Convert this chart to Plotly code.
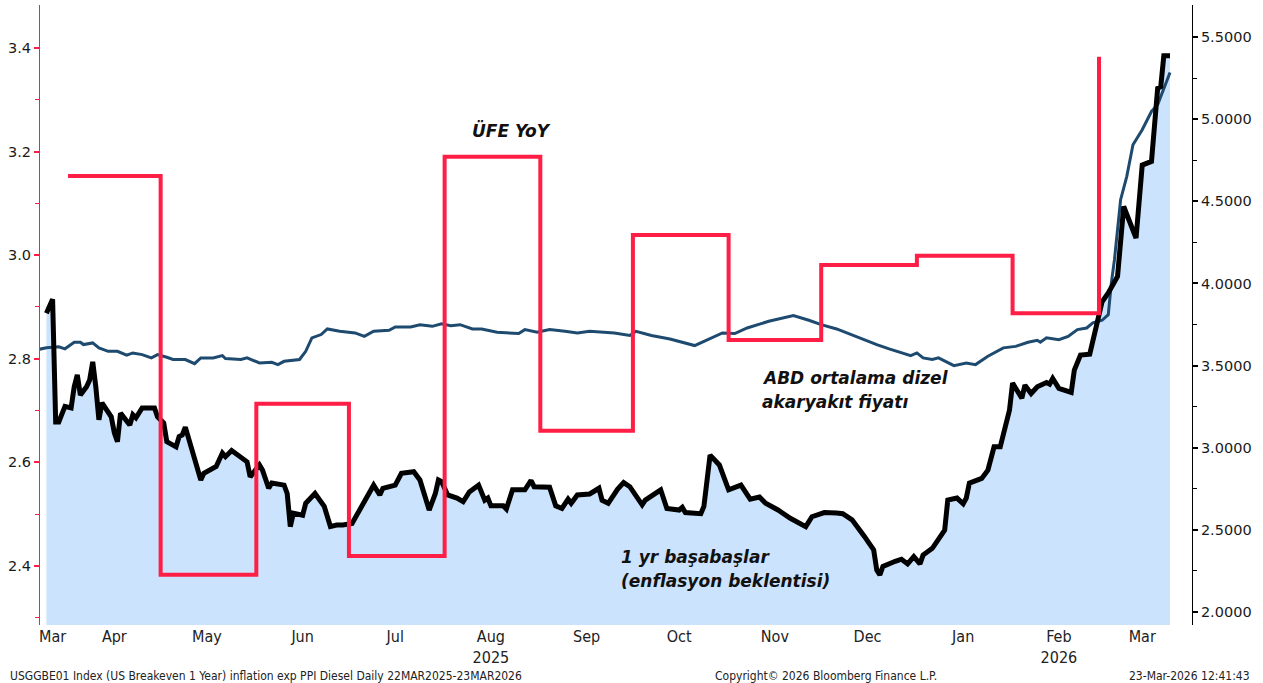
import plotly.graph_objects as go

# ---------------- data ----------------
breakeven_dates = [
    "2025-03-24", "2025-03-26", "2025-03-27", "2025-03-28", "2025-03-30", "2025-04-01", "2025-04-02",
    "2025-04-03", "2025-04-04", "2025-04-06", "2025-04-07", "2025-04-08", "2025-04-09", "2025-04-10",
    "2025-04-11", "2025-04-14", "2025-04-15", "2025-04-16", "2025-04-17", "2025-04-20", "2025-04-21",
    "2025-04-22", "2025-04-24", "2025-04-28", "2025-04-29", "2025-05-01", "2025-05-02", "2025-05-05",
    "2025-05-06", "2025-05-07", "2025-05-08", "2025-05-11", "2025-05-13", "2025-05-14", "2025-05-18",
    "2025-05-20", "2025-05-21", "2025-05-23", "2025-05-28", "2025-05-29", "2025-06-01", "2025-06-02",
    "2025-06-04", "2025-06-05", "2025-06-09", "2025-06-10", "2025-06-11", "2025-06-12", "2025-06-15",
    "2025-06-16", "2025-06-19", "2025-06-22", "2025-06-24", "2025-06-26", "2025-06-28", "2025-07-01",
    "2025-07-08", "2025-07-10", "2025-07-11", "2025-07-15", "2025-07-17", "2025-07-21", "2025-07-23",
    "2025-07-26", "2025-07-28", "2025-07-29", "2025-07-30", "2025-08-01", "2025-08-04", "2025-08-06",
    "2025-08-08", "2025-08-11", "2025-08-13", "2025-08-14", "2025-08-15", "2025-08-19", "2025-08-20",
    "2025-08-22", "2025-08-26", "2025-08-28", "2025-08-29", "2025-09-03", "2025-09-05", "2025-09-07",
    "2025-09-09", "2025-09-10", "2025-09-12", "2025-09-16", "2025-09-19", "2025-09-20", "2025-09-22",
    "2025-09-25", "2025-09-27", "2025-09-29", "2025-10-03", "2025-10-04", "2025-10-09", "2025-10-11",
    "2025-10-15", "2025-10-16", "2025-10-17", "2025-10-22", "2025-10-23", "2025-10-25", "2025-10-28",
    "2025-10-31", "2025-11-04", "2025-11-07", "2025-11-10", "2025-11-12", "2025-11-16", "2025-11-20",
    "2025-11-25", "2025-11-27", "2025-12-01", "2025-12-05", "2025-12-07", "2025-12-10", "2025-12-12",
    "2025-12-14", "2025-12-17", "2025-12-18", "2025-12-19", "2025-12-20", "2025-12-24", "2025-12-26",
    "2025-12-28", "2025-12-30", "2026-01-01", "2026-01-02", "2026-01-05", "2026-01-07", "2026-01-09",
    "2026-01-10", "2026-01-13", "2026-01-15", "2026-01-16", "2026-01-17", "2026-01-21", "2026-01-23",
    "2026-01-25", "2026-01-27", "2026-01-30", "2026-01-31", "2026-02-03", "2026-02-04", "2026-02-06",
    "2026-02-08", "2026-02-11", "2026-02-12", "2026-02-13", "2026-02-15", "2026-02-19", "2026-02-20",
    "2026-02-22", "2026-02-25", "2026-02-27", "2026-03-01", "2026-03-03", "2026-03-06", "2026-03-08",
    "2026-03-12", "2026-03-14", "2026-03-17", "2026-03-19", "2026-03-20", "2026-03-21", "2026-03-23",
]
breakeven_values = [
    2.888, 2.915, 2.678, 2.678, 2.708, 2.705, 2.746,
    2.769, 2.730, 2.746, 2.759, 2.794, 2.746, 2.682,
    2.715, 2.688, 2.657, 2.640, 2.695, 2.672, 2.692,
    2.686, 2.705, 2.705, 2.688, 2.676, 2.640, 2.630,
    2.650, 2.653, 2.668, 2.611, 2.566, 2.579, 2.592,
    2.618, 2.611, 2.623, 2.601, 2.572, 2.595, 2.585,
    2.550, 2.560, 2.556, 2.540, 2.476, 2.502, 2.498,
    2.521, 2.540, 2.515, 2.476, 2.479, 2.479, 2.482,
    2.556, 2.537, 2.550, 2.556, 2.579, 2.582, 2.566,
    2.508, 2.540, 2.566, 2.563, 2.537, 2.531, 2.524,
    2.543, 2.556, 2.527, 2.531, 2.516, 2.516, 2.510,
    2.547, 2.547, 2.565, 2.553, 2.552, 2.516, 2.511,
    2.529, 2.521, 2.537, 2.539, 2.550, 2.527, 2.521,
    2.548, 2.561, 2.553, 2.518, 2.527, 2.547, 2.511,
    2.508, 2.513, 2.503, 2.501, 2.515, 2.614, 2.595,
    2.547, 2.556, 2.529, 2.533, 2.521, 2.508, 2.492,
    2.476, 2.495, 2.503, 2.502, 2.501, 2.489, 2.471,
    2.457, 2.431, 2.392, 2.383, 2.399, 2.409, 2.413,
    2.404, 2.418, 2.404, 2.421, 2.434, 2.450, 2.469,
    2.527, 2.531, 2.520, 2.531, 2.560, 2.569, 2.585,
    2.630, 2.630, 2.701, 2.753, 2.724, 2.749, 2.733,
    2.746, 2.754, 2.751, 2.762, 2.743, 2.735, 2.778,
    2.807, 2.809, 2.856, 2.910, 2.927, 2.959, 3.094,
    3.033, 3.174, 3.181, 3.322, 3.325, 3.385, 3.385,
]

diesel_dates = [
    "2025-03-21", "2025-03-24", "2025-03-28", "2025-03-30", "2025-04-02", "2025-04-04", "2025-04-05",
    "2025-04-08", "2025-04-10", "2025-04-13", "2025-04-16", "2025-04-19", "2025-04-21", "2025-04-24",
    "2025-04-27", "2025-04-29", "2025-05-02", "2025-05-04", "2025-05-08", "2025-05-11", "2025-05-13",
    "2025-05-17", "2025-05-20", "2025-05-21", "2025-05-26", "2025-05-28", "2025-06-01", "2025-06-05",
    "2025-06-07", "2025-06-09", "2025-06-14", "2025-06-16", "2025-06-18", "2025-06-21", "2025-06-23",
    "2025-06-27", "2025-07-02", "2025-07-05", "2025-07-08", "2025-07-13", "2025-07-15", "2025-07-20",
    "2025-07-23", "2025-07-27", "2025-07-30", "2025-08-02", "2025-08-05", "2025-08-09", "2025-08-12",
    "2025-08-17", "2025-08-24", "2025-08-26", "2025-08-30", "2025-09-03", "2025-09-08", "2025-09-12",
    "2025-09-16", "2025-09-20", "2025-09-24", "2025-09-29", "2025-10-01", "2025-10-06", "2025-10-12",
    "2025-10-20", "2025-10-23", "2025-10-29", "2025-11-02", "2025-11-06", "2025-11-13", "2025-11-21",
    "2025-11-26", "2025-11-30", "2025-12-05", "2025-12-11", "2025-12-18", "2025-12-22", "2025-12-29",
    "2025-12-31", "2026-01-02", "2026-01-05", "2026-01-07", "2026-01-12", "2026-01-16", "2026-01-19",
    "2026-01-23", "2026-01-28", "2026-02-01", "2026-02-05", "2026-02-08", "2026-02-09", "2026-02-11",
    "2026-02-15", "2026-02-18", "2026-02-21", "2026-02-24", "2026-02-26", "2026-03-01", "2026-03-03",
    "2026-03-04", "2026-03-05", "2026-03-07", "2026-03-09", "2026-03-11", "2026-03-14", "2026-03-17",
    "2026-03-19", "2026-03-21", "2026-03-23",
]
diesel_values = [
    3.597, 3.608, 3.614, 3.602, 3.642, 3.642, 3.628,
    3.638, 3.608, 3.587, 3.587, 3.563, 3.577, 3.567,
    3.547, 3.567, 3.551, 3.537, 3.537, 3.512, 3.547,
    3.547, 3.561, 3.543, 3.537, 3.547, 3.516, 3.520,
    3.506, 3.526, 3.537, 3.587, 3.669, 3.689, 3.723,
    3.709, 3.699, 3.678, 3.709, 3.715, 3.735, 3.735,
    3.749, 3.739, 3.754, 3.743, 3.749, 3.723, 3.723,
    3.703, 3.695, 3.719, 3.703, 3.719, 3.709, 3.699,
    3.709, 3.703, 3.699, 3.683, 3.709, 3.683, 3.662,
    3.622, 3.648, 3.699, 3.695, 3.729, 3.770, 3.804,
    3.776, 3.749, 3.723, 3.678, 3.628, 3.602, 3.561,
    3.577, 3.547, 3.537, 3.547, 3.500, 3.516, 3.506,
    3.557, 3.608, 3.617, 3.642, 3.654, 3.642, 3.669,
    3.658, 3.678, 3.719, 3.729, 3.760, 3.776, 3.810,
    4.003, 4.145, 4.510, 4.652, 4.844, 4.936, 5.047,
    5.088, 5.189, 5.284,
]

ppi_dates = [
    "2025-03-31", "2025-04-30", "2025-05-31", "2025-06-30", "2025-07-31", "2025-08-31",
    "2025-09-30", "2025-10-31", "2025-11-30", "2025-12-31", "2026-01-31", "2026-02-28",
]
ppi_values = [3.153, 2.383, 2.713, 2.419, 3.190, 2.661, 3.039, 2.836, 2.981, 2.999, 2.888, 3.383]

month_tick_dates = [
    "2025-03-26", "2025-04-15", "2025-05-15", "2025-06-15", "2025-07-15", "2025-08-15",
    "2025-09-15", "2025-10-15", "2025-11-15", "2025-12-15", "2026-01-15", "2026-02-15", "2026-03-14",
]
month_tick_labels = ["Mar", "Apr", "May", "Jun", "Jul", "Aug<br>2025", "Sep", "Oct", "Nov", "Dec",
                     "Jan", "Feb<br>2026", "Mar"]

left_ticks = [2.4, 2.6, 2.8, 3.0, 3.2, 3.4]
right_ticks = [2.0, 2.5, 3.0, 3.5, 4.0, 4.5, 5.0, 5.5]

# ---------------- styles ----------------
RED = "#ff1e46"
NAVY = "#1e4a70"
FILL = "#cbe3fc"
LEFT_RANGE = [2.286, 3.483]
RIGHT_RANGE = [1.921, 5.695]
X_RANGE = ["2025-03-21 22:00", "2026-03-30 03:00"]
LABEL_FONT = dict(family="DejaVu Sans, Verdana, sans-serif", size=14.5, color="#1a1a1a")
NARROW = "Liberation Sans Narrow, DejaVu Sans Condensed, Arial Narrow, sans-serif"
ANN_FONT = dict(family="DejaVu Sans, Verdana, sans-serif", size=17, color="#111111")
FOOT_FONT = dict(family=NARROW, size=12, color="#222222")

fig = go.Figure()

# fill under the breakeven line (bottom layer)
fig.add_trace(go.Scatter(x=breakeven_dates, y=breakeven_values, mode="lines",
                         line=dict(width=0), fill="tozeroy", fillcolor=FILL,
                         yaxis="y", hoverinfo="skip", showlegend=False))
# diesel (right axis)
fig.add_trace(go.Scatter(x=diesel_dates, y=diesel_values, mode="lines",
                         line=dict(color=NAVY, width=3), yaxis="y2", showlegend=False,
                         name="ABD ortalama dizel akaryakıt fiyatı"))
# breakeven line
fig.add_trace(go.Scatter(x=breakeven_dates, y=breakeven_values, mode="lines",
                         line=dict(color="#000000", width=5), yaxis="y3", showlegend=False,
                         name="1 yr başabaşlar"))
# PPI step line
fig.add_trace(go.Scatter(x=ppi_dates, y=ppi_values, mode="lines",
                         line=dict(color=RED, width=4, shape="hv"), yaxis="y3", showlegend=False,
                         name="ÜFE YoY"))


def label(text, x, y, anchor="left"):
    return dict(text=f"<b><i>{text}</i></b>", xref="paper", yref="paper", x=x, y=y,
                xanchor=anchor, yanchor="middle", showarrow=False, font=ANN_FONT)


def footer(text, x, anchor):
    return dict(text=text, xref="paper", yref="paper", x=x, y=-0.0823, xanchor=anchor,
                yanchor="middle", showarrow=False, font=FOOT_FONT)


fig.update_layout(
    width=1263, height=683,
    margin=dict(l=40, r=71, t=5, b=58),
    paper_bgcolor="white", plot_bgcolor="white",
    showlegend=False,
    xaxis=dict(
        type="date", range=X_RANGE, showgrid=False, zeroline=False, showline=False,
        automargin=False,
        tickmode="array", tickvals=month_tick_dates, ticktext=month_tick_labels,
        ticks="", tickfont=dict(family=NARROW, size=16, color="#222222"),
    ),
    yaxis=dict(
        side="left", range=LEFT_RANGE, showgrid=False, zeroline=False, automargin=False,
        showline=True, linecolor=RED, linewidth=1,
        tickmode="array", tickvals=left_ticks, ticktext=[f"{v:.1f}" for v in left_ticks],
        ticks="outside", ticklen=5, tickwidth=2, tickcolor=RED, tickfont=LABEL_FONT,
        minor=dict(tickmode="linear", tick0=2.3, dtick=0.2, ticks="outside", ticklen=4,
                   tickcolor=RED, tickwidth=1),
    ),
    yaxis2=dict(
        overlaying="y", side="right", range=RIGHT_RANGE, showgrid=False, zeroline=False,
        automargin=False,
        showline=True, linecolor="#000000", linewidth=1,
        tickmode="array", tickvals=right_ticks, ticktext=[f"{v:.4f}" for v in right_ticks],
        ticks="outside", ticklen=5, tickwidth=2, tickcolor="#000000", tickfont=LABEL_FONT,
        minor=dict(tickmode="linear", tick0=2.25, dtick=0.5, ticks="outside", ticklen=4,
                   tickcolor="#000000", tickwidth=1),
    ),
    yaxis3=dict(
        overlaying="y", side="left", range=LEFT_RANGE, visible=False, automargin=False,
        showgrid=False, zeroline=False,
    ),
    annotations=[
        label("ÜFE YoY", 0.409, 0.798, "center"),
        label("ABD ortalama dizel", 0.625, 0.3984),
        label("akaryakıt fiyatı", 0.625, 0.3597),
        label("1 yr başabaşlar", 0.503, 0.1097),
        label("(enflasyon beklentisi)", 0.503, 0.0710),
        footer("USGGBE01 Index (US Breakeven 1 Year) inflation exp PPI Diesel Daily 22MAR2025-23MAR2026",
               -0.0278, "left"),
        footer("Copyright© 2026 Bloomberg Finance L.P.", 0.682, "center"),
        footer("23-Mar-2026 12:41:43", 1.052, "right"),
    ],
)

fig.write_html("out.html", config={"displayModeBar": False},
               post_script="document.body.style.margin='0';document.body.style.overflow='hidden';")
